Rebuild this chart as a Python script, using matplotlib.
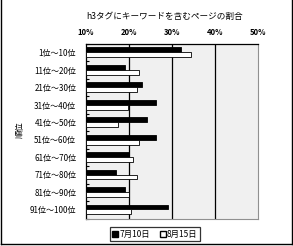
import numpy as np
import matplotlib
matplotlib.use("Agg")
import matplotlib.pyplot as plt
from matplotlib.lines import Line2D

plt.rcParams['font.family'] = ['Noto Sans CJK JP', 'DejaVu Sans']

categories = ["1位～10位", "11位～20位", "21位～30位", "31位～40位", "41位～50位",
              "51位～60位", "61位～70位", "71位～80位", "81位～90位", "91位～100位"]
jul10 = [32.2, 19.1, 23.1, 26.2, 24.3, 26.2, 20.0, 17.0, 19.1, 29.1]
aug15 = [34.5, 22.4, 21.9, 19.7, 17.4, 22.4, 20.9, 21.9, 19.9, 20.4]
x_ticks = [10, 20, 30, 40, 50]
x_labels = ["10%", "20%", "30%", "40%", "50%"]

W, H = 293, 246
fig = plt.figure(figsize=(W / 100, H / 100), dpi=100)
fig.patch.set_facecolor("white")

ax = fig.add_axes([86 / W, 1 - 218.5 / H, 172 / W, 174.5 / H])
ax.set_facecolor("#f0f0f0")

y = np.arange(len(categories))
h = 0.28
ax.barh(y - 0.16, [v - 10 for v in jul10], left=10, height=h,
        color="black", edgecolor="black", linewidth=0.6, zorder=3)
ax.barh(y + 0.12, [v - 10 for v in aug15], left=10, height=h,
        color="white", edgecolor="black", linewidth=0.6, zorder=3)

ax.set_xlim(10, 50)
ax.set_ylim(len(categories) - 0.5, -0.5)
for gx in x_ticks[1:-1]:
    ax.axvline(gx, color="black", linewidth=0.9, zorder=2)

ax.xaxis.tick_top()
ax.set_xticks(x_ticks)
ax.set_xticklabels(x_labels, fontsize=5.5, fontweight="bold")
ax.tick_params(axis="x", length=0, pad=5)

ax.set_yticks(y)
ax.set_yticklabels(categories, fontsize=5.8)
ax.set_yticks(np.arange(len(categories) + 1) - 0.5, minor=True)
ax.tick_params(axis="y", which="major", length=0, pad=7)
ax.tick_params(axis="y", which="minor", direction="in", length=2, width=0.8)

ax.spines["top"].set_color("black")
ax.spines["left"].set_color("black")
ax.spines["top"].set_linewidth(0.9)
ax.spines["left"].set_linewidth(0.9)
ax.spines["right"].set_color("#909090")
ax.spines["bottom"].set_color("#909090")

fig.text(20 / W, 1 - 130 / H, "順位", rotation=90, fontsize=6,
         ha="center", va="center")
fig.text(165 / W, 1 - 16 / H, "h3タグにキーワードを含むページの割合",
         fontsize=6.2, ha="center", va="center")

handles = [
    Line2D([], [], marker="s", linestyle="none", markersize=4.5,
           markerfacecolor="black", markeredgecolor="black"),
    Line2D([], [], marker="s", linestyle="none", markersize=4.5,
           markerfacecolor="white", markeredgecolor="black"),
]
leg = fig.legend(handles, ["7月10日", "8月15日"], loc="center",
                 bbox_to_anchor=(155 / W, 1 - 234 / H), ncol=2,
                 fontsize=6, frameon=True, fancybox=False,
                 handlelength=0.6, handletextpad=0.2, columnspacing=1.2,
                 borderpad=0.3, borderaxespad=0)
leg.get_frame().set_edgecolor("black")
leg.get_frame().set_linewidth(0.9)

# outer frame (left, right, bottom)
fig.add_artist(Line2D([0.5 / W, 0.5 / W], [1 - 243.5 / H, 1], color="black",
                      linewidth=1, transform=fig.transFigure))
fig.add_artist(Line2D([291.5 / W, 291.5 / W], [1 - 243.5 / H, 1], color="black",
                      linewidth=1, transform=fig.transFigure))
fig.add_artist(Line2D([0.5 / W, 291.5 / W], [1 - 243.5 / H, 1 - 243.5 / H],
                      color="black", linewidth=1, transform=fig.transFigure))

fig.savefig("out.png", dpi=100)
